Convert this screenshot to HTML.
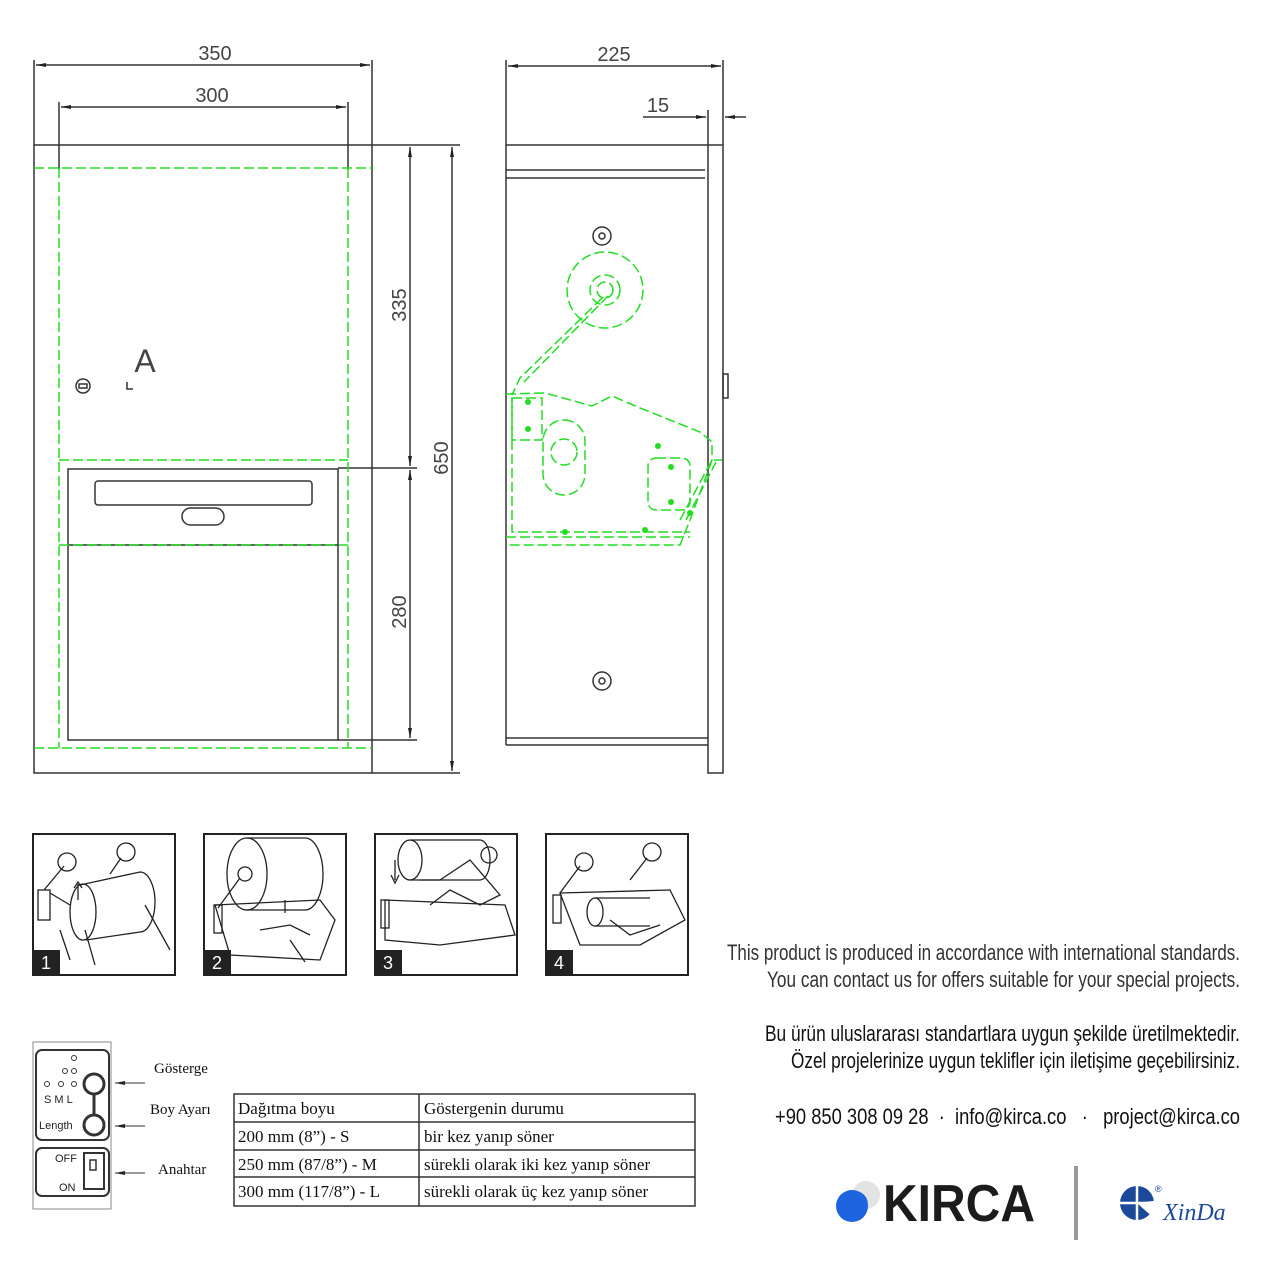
<!DOCTYPE html>
<html><head><meta charset="utf-8"><style>
html,body{margin:0;padding:0;background:#fff;}
svg{display:block}
text{font-family:"Liberation Sans",sans-serif;white-space:pre}
.s{font-family:"Liberation Serif",serif}
</style></head><body>
<svg width="1280" height="1280" viewBox="0 0 1280 1280" xmlns="http://www.w3.org/2000/svg">
<defs>
<marker id="a" markerWidth="10" markerHeight="6" refX="10" refY="3" orient="auto-start-reverse" markerUnits="userSpaceOnUse"><path d="M0,1 L10,3 L0,5 Z" fill="#222"/></marker>
</defs>
<g stroke="#333" stroke-width="1.5" fill="none">
<rect x="34" y="145" width="338" height="628"/>
<line x1="372" y1="145" x2="460" y2="145"/>
<line x1="34" y1="60" x2="34" y2="145"/><line x1="372" y1="60" x2="372" y2="145"/>
<line x1="59" y1="102" x2="59" y2="170"/><line x1="348" y1="102" x2="348" y2="170"/>
<line x1="36" y1="65" x2="370" y2="65" marker-start="url(#a)" marker-end="url(#a)"/>
<line x1="61" y1="107" x2="346" y2="107" marker-start="url(#a)" marker-end="url(#a)"/>
<rect x="68" y="469" width="270" height="271"/>
<line x1="68" y1="545" x2="338" y2="545"/>
<rect x="95" y="481" width="217" height="24" rx="3"/>
<rect x="182" y="508" width="42" height="17" rx="8.5"/>
<line x1="338" y1="468" x2="417" y2="468"/><line x1="338" y1="740" x2="417" y2="740"/>
<line x1="410" y1="147" x2="410" y2="466" marker-start="url(#a)" marker-end="url(#a)"/>
<line x1="410" y1="470" x2="410" y2="738" marker-start="url(#a)" marker-end="url(#a)"/>
<line x1="372" y1="773" x2="460" y2="773"/>
<line x1="452" y1="147" x2="452" y2="771" marker-start="url(#a)" marker-end="url(#a)"/>
<circle cx="83" cy="386" r="7"/><rect x="79" y="384" width="8" height="4"/>
<path d="M127 382 V389 H133"/>
<line x1="506" y1="60" x2="506" y2="745"/>
<line x1="723" y1="60" x2="723" y2="145"/>
<line x1="508" y1="66" x2="721" y2="66" marker-start="url(#a)" marker-end="url(#a)"/>
<line x1="506" y1="145" x2="708" y2="145"/>
<rect x="708" y="145" width="15" height="628"/>
<line x1="708" y1="110" x2="708" y2="145"/>
<line x1="643" y1="117" x2="706" y2="117" marker-end="url(#a)"/>
<line x1="746" y1="117" x2="725" y2="117" marker-end="url(#a)"/>
<line x1="506" y1="170" x2="705" y2="170"/><line x1="506" y1="178" x2="705" y2="178"/>
<line x1="506" y1="738" x2="708" y2="738"/><line x1="506" y1="745" x2="708" y2="745"/>
<rect x="723" y="374" width="5" height="24"/>
<circle cx="602" cy="236" r="9"/><circle cx="602" cy="236" r="3"/>
<circle cx="602" cy="681" r="9"/><circle cx="602" cy="681" r="3"/>
</g>
<g stroke="#22dd22" stroke-width="1.5" fill="none" stroke-dasharray="10,4">
<line x1="34" y1="168" x2="372" y2="168"/>
<line x1="34" y1="748" x2="372" y2="748"/>
<line x1="59" y1="168" x2="59" y2="748"/><line x1="348" y1="168" x2="348" y2="748"/>
<line x1="59" y1="460" x2="348" y2="460"/><line x1="59" y1="545" x2="348" y2="545"/>
<circle cx="605" cy="290" r="38"/><circle cx="605" cy="290" r="15"/><circle cx="605" cy="290" r="8"/>
<path d="M602 298 L520 378 L512 395"/><path d="M608 296 L524 382"/>
<path d="M506 394 L545 393 L592 406 L612 396 L640 408 L700 432 L712 442 L712 460 L690 520 L680 545 L506 545"/>
<path d="M512 398 L512 532 L690 532"/><path d="M506 537 L690 537"/>
<rect x="512" y="398" width="30" height="42"/>
<rect x="543" y="420" width="42" height="75" rx="21"/><circle cx="564" cy="452" r="13"/>
<rect x="648" y="458" width="42" height="52" rx="8"/>
<path d="M680 520 L712 460 L722 460"/><path d="M686 520 L716 462"/>
</g>
<g fill="#22dd22"><circle cx="528" cy="402" r="3"/><circle cx="528" cy="429" r="3"/><circle cx="671" cy="467" r="3"/><circle cx="671" cy="502" r="3"/><circle cx="690" cy="513" r="3"/><circle cx="658" cy="446" r="3"/><circle cx="565" cy="532" r="3"/><circle cx="645" cy="530" r="3"/></g>
<g fill="#444" font-size="20">
<text x="215" y="60" text-anchor="middle">350</text>
<text x="212" y="102" text-anchor="middle">300</text>
<text x="614" y="61" text-anchor="middle">225</text>
<text x="658" y="112" text-anchor="middle">15</text>
<text x="145" y="372" font-size="32" text-anchor="middle">A</text>
<text transform="translate(406,305) rotate(-90)" text-anchor="middle">335</text>
<text transform="translate(406,612) rotate(-90)" text-anchor="middle">280</text>
<text transform="translate(448,458) rotate(-90)" text-anchor="middle">650</text>
</g>
<g stroke="#222" stroke-width="2" fill="none">
<rect x="33" y="834" width="142" height="141"/><rect x="204" y="834" width="142" height="141"/>
<rect x="375" y="834" width="142" height="141"/><rect x="546" y="834" width="142" height="141"/>
</g>
<g stroke="#222" stroke-width="1.3" fill="none">
<circle cx="67" cy="862" r="9"/><circle cx="126" cy="852" r="9"/>
<path d="M64 866 L44 890 M121 858 L110 874"/>
<path d="M80 885 L140 872 A15 30 0 0 1 140 932 L86 940"/><ellipse cx="83" cy="912" rx="13" ry="28"/>
<rect x="38" y="890" width="12" height="30"/><path d="M50 893 L70 905 M60 930 L70 960 M85 930 L95 965 M145 905 L170 950"/>
<path d="M78 900 L78 884 M74 888 L78 882 L82 888"/>
<ellipse cx="247" cy="874" rx="20" ry="36"/><path d="M247 838 L305 838 A18 36 0 0 1 305 910 L247 910"/><circle cx="245" cy="874" r="7"/>
<path d="M240 878 L218 908"/><path d="M215 905 L320 900 L335 920 L320 960 L230 955 Z"/><rect x="214" y="905" width="8" height="28"/>
<path d="M285 900 L285 913 M260 930 L290 925 L310 935 M290 940 L305 962"/>
<ellipse cx="410" cy="860" rx="12" ry="20"/><path d="M410 840 L480 840 A10 20 0 0 1 480 880 L410 880"/><circle cx="489" cy="855" r="8"/>
<path d="M420 880 L440 880 L470 860 L500 895 L480 905 L450 890 L430 905"/>
<path d="M385 900 L505 905 L515 935 L440 945 L385 940 Z"/><rect x="381" y="900" width="8" height="28"/>
<path d="M395 860 L395 880 M391 875 L395 883 L399 875"/>
<circle cx="584" cy="862" r="9"/><circle cx="652" cy="852" r="9"/><path d="M580 866 L560 893 M647 858 L630 880"/>
<path d="M560 893 L670 890 L685 920 L640 945 L580 945 Z"/><rect x="553" y="895" width="8" height="28"/>
<ellipse cx="595" cy="912" rx="8" ry="14"/><path d="M595 898 L650 898 M595 926 L650 926 M610 920 L630 935 L660 925"/>
</g>
<g font-size="18" fill="#fff">
<rect x="34" y="950" width="26" height="25" fill="#222"/><text x="41" y="969">1</text>
<rect x="205" y="950" width="26" height="25" fill="#222"/><text x="212" y="969">2</text>
<rect x="376" y="950" width="26" height="25" fill="#222"/><text x="383" y="969">3</text>
<rect x="547" y="950" width="26" height="25" fill="#222"/><text x="554" y="969">4</text>
</g>
<g stroke="#333" fill="none">
<rect x="33" y="1042" width="78" height="167" stroke-width="1" stroke="#888"/>
<rect x="36" y="1050" width="73" height="90" rx="6" stroke-width="2"/>
<rect x="36" y="1148" width="73" height="48" rx="6" stroke-width="2"/>
<circle cx="94" cy="1084" r="10" stroke-width="3"/><circle cx="94" cy="1125" r="10" stroke-width="3"/>
<line x1="94" y1="1094" x2="94" y2="1115" stroke-width="3"/>
<rect x="84" y="1153" width="20" height="36" stroke-width="2"/><rect x="90" y="1160" width="6" height="10" stroke-width="1.5"/>
<g stroke-width="1"><circle cx="74" cy="1058" r="2.5"/><circle cx="65" cy="1071" r="2.5"/><circle cx="74" cy="1071" r="2.5"/><circle cx="47" cy="1084" r="2.5"/><circle cx="61" cy="1084" r="2.5"/><circle cx="74" cy="1084" r="2.5"/></g>
<g stroke-width="1"><line x1="145" y1="1083" x2="115" y2="1083" marker-end="url(#a)"/><line x1="145" y1="1126" x2="115" y2="1126" marker-end="url(#a)"/><line x1="145" y1="1173" x2="115" y2="1173" marker-end="url(#a)"/></g>
<rect x="234" y="1094" width="461" height="112" stroke-width="1.5"/>
<line x1="234" y1="1122" x2="695" y2="1122" stroke-width="1.5"/><line x1="234" y1="1150" x2="695" y2="1150" stroke-width="1.5"/><line x1="234" y1="1177" x2="695" y2="1177" stroke-width="1.5"/>
<line x1="419" y1="1094" x2="419" y2="1206" stroke-width="1.5"/>
</g>
<g fill="#222" font-size="11"><text x="44" y="1103">S M L</text><text x="39" y="1129">Length</text><text x="55" y="1162">OFF</text><text x="59" y="1191">ON</text></g>
<g fill="#111" font-size="17">
<text class="s" x="154" y="1073" font-size="15">Gösterge</text>
<text class="s" x="150" y="1114" font-size="15">Boy Ayarı</text>
<text class="s" x="158" y="1174" font-size="15">Anahtar</text>
<text class="s" x="238" y="1114">Dağıtma boyu</text><text class="s" x="424" y="1114">Göstergenin durumu</text>
<text class="s" x="238" y="1142">200 mm (8”) - S</text><text class="s" x="424" y="1142">bir kez yanıp söner</text>
<text class="s" x="238" y="1170">250 mm (87/8”) - M</text><text class="s" x="424" y="1170">sürekli olarak iki kez yanıp söner</text>
<text class="s" x="238" y="1197">300 mm (117/8”) - L</text><text class="s" x="424" y="1197">sürekli olarak üç kez yanıp söner</text>
</g>
<g fill="#333" font-size="22" text-anchor="end">
<text x="1240" y="960" textLength="513" lengthAdjust="spacingAndGlyphs">This product is produced in accordance with international standards.</text>
<text x="1240" y="987" textLength="473" lengthAdjust="spacingAndGlyphs">You can contact us for offers suitable for your special projects.</text>
<text x="1240" y="1041" fill="#111" textLength="475" lengthAdjust="spacingAndGlyphs">Bu ürün uluslararası standartlara uygun şekilde üretilmektedir.</text>
<text x="1240" y="1068" fill="#111" textLength="449" lengthAdjust="spacingAndGlyphs">Özel projelerinize uygun teklifler için iletişime geçebilirsiniz.</text>
<text x="1240" y="1124" fill="#111" textLength="465" lengthAdjust="spacingAndGlyphs">+90 850 308 09 28  ·  info@kirca.co   ·   project@kirca.co</text>
</g>
<circle cx="866" cy="1195" r="14" fill="#e3e3e3"/>
<circle cx="852" cy="1206" r="16" fill="#1e63e0"/>
<path d="M857 1191 A14 14 0 0 1 868 1205 A16 16 0 0 0 857 1191 Z" fill="#1a4ab0"/>
<text x="883" y="1221" font-size="52" font-weight="bold" fill="#1c1c1c" textLength="152" lengthAdjust="spacingAndGlyphs">KIRCA</text>
<rect x="1074" y="1166" width="4" height="74" fill="#999"/>
<circle cx="1137" cy="1203" r="17" fill="#1b4a9a"/>
<path d="M1137 1203 L1160 1200 L1158 1222 Z" fill="#fff"/>
<path d="M1137 1186 V1220 M1120 1203 H1154" stroke="#fff" stroke-width="2.5"/>
<text x="1155" y="1192" font-size="9" fill="#1b4a9a">®</text>
<text x="1163" y="1220" font-size="24" font-style="italic" fill="#1b4a9a" class="s">XinDa</text>
</svg>
</body></html>
